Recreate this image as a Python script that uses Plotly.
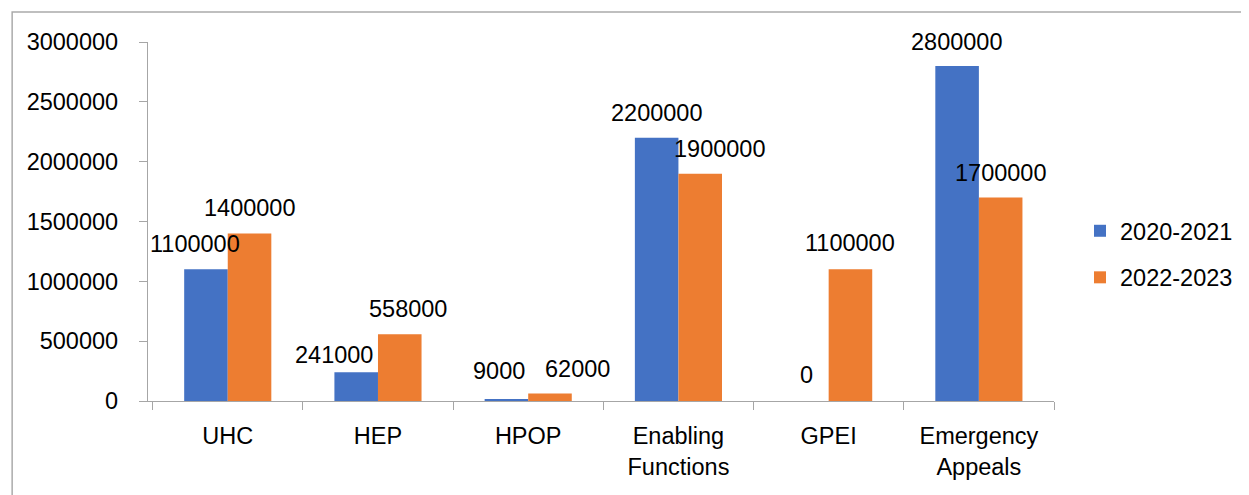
import plotly.graph_objects as go

categories = ["UHC", "HEP", "HPOP", "Enabling<br>Functions", "GPEI", "Emergency<br>Appeals"]
series_names = ["2020-2021", "2022-2023"]
values_2020_2021 = [1100000, 241000, 9000, 2200000, 0, 2800000]
values_2022_2023 = [1400000, 558000, 62000, 1900000, 1100000, 1700000]
y_ticks = [0, 500000, 1000000, 1500000, 2000000, 2500000, 3000000]

colors = ["#4472C4", "#ED7D31"]
FONT = "Liberation Sans"
FS = 23.5
OFF = 8  # page body margin
W, H = 1249 - OFF, 495 - OFF
L, T = 148 - OFF, 42 - OFF
PW, PH = 907, 359
R = W - L - PW
B = H - T - PH

def px_x(px):
    return (px - 148) / PW

def px_y(py):
    return (401 - py) / PH

# label placement tweaks (pixels), mimicking manual label placement of the original
label_dx = [[-11, -22, -7, 0, 0, 0], [0, 8, 28, 20, 0, 0]]
label_dy = [[25, 17, 29, 25, 26, 24], [25, 25, 25, 25, 26, 25]]
group_half = 21.75

fig = go.Figure()
for i, (name, vals) in enumerate(zip(series_names, [values_2020_2021, values_2022_2023])):
    fig.add_trace(go.Bar(
        x=categories, y=vals, name=name,
        marker=dict(color=colors[i], line=dict(width=0)),
        legendgroup=name,
    ))
    for j, (c, v) in enumerate(zip(categories, vals)):
        fig.add_annotation(
            x=c, y=v, xref="x", yref="y", text=str(v), showarrow=False,
            xshift=(-group_half if i == 0 else group_half) + label_dx[i][j],
            yshift=label_dy[i][j], yanchor="middle",
            font=dict(family=FONT, size=FS, color="#000000"),
        )

fig.update_layout(
    width=W, height=H,
    margin=dict(l=L, r=R, t=T, b=B),
    paper_bgcolor="white", plot_bgcolor="white",
    barmode="group", bargap=0.42, bargroupgap=0,
    font=dict(family=FONT, size=FS, color="#000000"),
    showlegend=True,
    legend=dict(x=px_x(1080), xanchor="left", y=px_y(209), yanchor="top",
                font=dict(family=FONT, size=FS, color="#000000"),
                tracegroupgap=13, traceorder="grouped", bgcolor="rgba(0,0,0,0)"),
    shapes=[dict(type="rect", xref="paper", yref="paper",
                 x0=px_x(12), x1=px_x(1270),
                 y0=px_y(520), y1=px_y(12),
                 line=dict(color="#ABABAB", width=1.5), fillcolor="rgba(0,0,0,0)", layer="below")],
)
fig.update_xaxes(
    showline=True, linecolor="#A6A6A6", linewidth=1.3,
    ticks="outside", ticklen=8, tickcolor="#A6A6A6", tickwidth=1.3,
    tickson="boundaries", showgrid=False, ticklabelstandoff=14,
    tickfont=dict(family=FONT, size=FS, color="#000000"),
)
fig.update_yaxes(
    range=[0, 3000000], tickvals=y_ticks, tickformat="d",
    showline=True, linecolor="#A6A6A6", linewidth=1.3,
    ticks="outside", ticklen=8, tickcolor="#A6A6A6", tickwidth=1.3,
    showgrid=False, zeroline=False, ticklabelstandoff=16,
    tickfont=dict(family=FONT, size=FS, color="#000000"),
)

fig.write_html("out.html")
